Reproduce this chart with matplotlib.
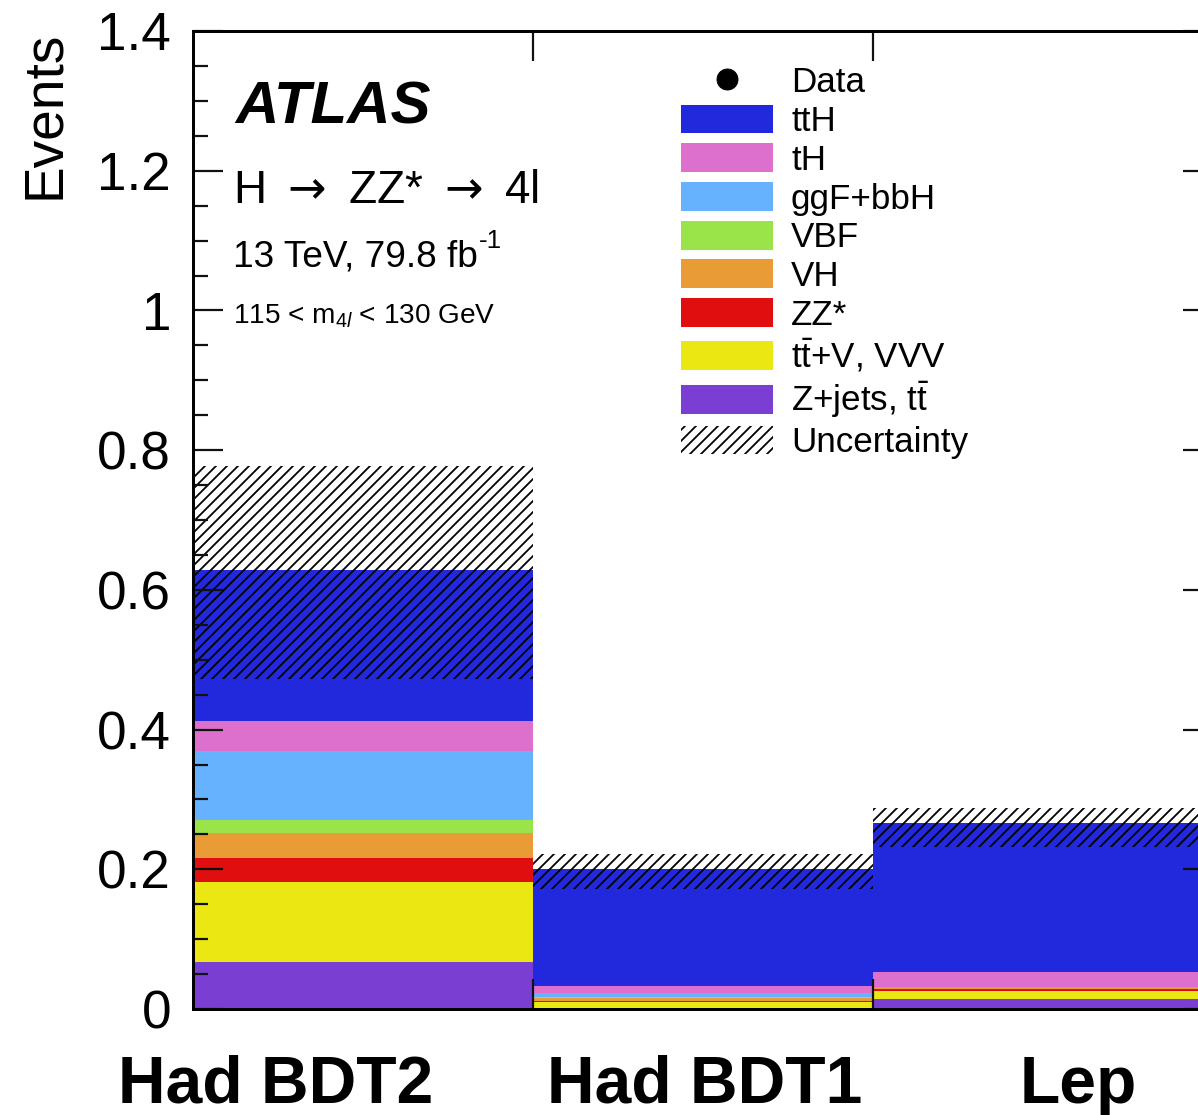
import numpy as np
import matplotlib
matplotlib.use("Agg")
import matplotlib.pyplot as plt
from matplotlib.lines import Line2D
from matplotlib.patches import Patch
from matplotlib.ticker import MultipleLocator

DPI = 66


def px(v):
    """pixel size -> points at the figure dpi"""
    return v * 72.0 / DPI


plt.rcParams["font.family"] = ["Liberation Sans", "DejaVu Sans"]
plt.rcParams["mathtext.fontset"] = "custom"
plt.rcParams["mathtext.rm"] = "Liberation Sans"
plt.rcParams["mathtext.it"] = "Liberation Sans:italic"
plt.rcParams["mathtext.bf"] = "Liberation Sans:bold"
plt.rcParams["hatch.linewidth"] = px(1.8)

# ── data ────────────────────────────────────────────────────────────────────
categories = ["Had BDT2", "Had BDT1", "Lep"]
bin_edges = [0, 1, 2, 3]
label_pos = [0.244, 1.506, 2.603]          # category label centres (bin units)

zjets = [0.067, 0.002, 0.014]
ttv = [0.115, 0.008, 0.012]
zz = [0.034, 0.002, 0.002]
vh = [0.036, 0.004, 0.003]
vbf = [0.019, 0.001, 0.0005]
ggf = [0.098, 0.0065, 0.0005]
th = [0.043, 0.0095, 0.021]
tth = [0.216, 0.168, 0.213]
unc_up = [0.150, 0.0205, 0.0215]
unc_down = [0.156, 0.0286, 0.0339]

yticks = [0, 0.2, 0.4, 0.6, 0.8, 1.0, 1.2, 1.4]
ytick_labels = ["0", "0.2", "0.4", "0.6", "0.8", "1", "1.2", "1.4"]

# stack order bottom -> top
STACK = [
    ("Z+jets, t$\\bar{\\mathrm{t}}$", zjets, "#7a3fd2"),
    ("t$\\bar{\\mathrm{t}}$+V, VVV", ttv, "#ebe712"),
    ("ZZ*", zz, "#e00e0e"),
    ("VH", vh, "#e99c36"),
    ("VBF", vbf, "#9ae44a"),
    ("ggF+bbH", ggf, "#66b2ff"),
    ("tH", th, "#dd70cc"),
    ("ttH", tth, "#2229dd"),
]

fig = plt.figure(figsize=(1198 / DPI, 1115 / DPI), dpi=DPI)
# right spine sits just outside the picture, as in the original crop
ax = fig.add_axes([193 / 1198, (1115 - 1009) / 1115, 1020 / 1198, 978 / 1115])

left = np.array(bin_edges[:-1], dtype=float)
width = np.diff(bin_edges)
bottom = np.zeros(len(categories))
for label, vals, col in STACK:
    ax.bar(left, vals, width=width, bottom=bottom, align="edge",
           color=col, linewidth=0, zorder=1)
    bottom += np.array(vals)

lo = bottom - np.array(unc_down)
hi = bottom + np.array(unc_up)
ax.bar(left, hi - lo, width=width, bottom=lo, align="edge",
       fill=False, hatch="//", edgecolor="k", linewidth=0, zorder=1.5)

ax.set_xlim(bin_edges[0], bin_edges[-1])
ax.set_ylim(0, 1.4)
ax.set_yticks(yticks)
ax.set_yticklabels(ytick_labels)
ax.yaxis.set_minor_locator(MultipleLocator(0.05))
ax.set_xticks(bin_edges[1:-1])
ax.tick_params(axis="x", labelbottom=False)
ax.tick_params(which="both", direction="in", top=True, right=True,
               width=px(2.2), color="#111111")
ax.tick_params(which="major", length=px(30), labelsize=px(53), pad=px(22))
ax.tick_params(which="minor", length=px(15))
for s in ax.spines.values():
    s.set_linewidth(px(3))

ax.set_ylabel("Events", fontsize=px(55), loc="top")
ax.yaxis.set_label_coords(-0.1196, 1.0)

for xpos, name in zip(label_pos, categories):
    ax.text(xpos, -0.096, name, transform=ax.get_xaxis_transform(),
            ha="center", va="baseline", fontsize=px(66), fontweight="bold")

# ATLAS labels
ax.text(0.0412, 0.905, "ATLAS", transform=ax.transAxes, fontsize=px(60),
        fontweight="bold", fontstyle="italic", va="baseline")
ax.text(0.0392, 0.824, "H $\\rightarrow$ ZZ* $\\rightarrow$ 4l", transform=ax.transAxes,
        fontsize=px(46), va="baseline", math_fontfamily="dejavusans")
lumi = ax.text(0.0392, 0.7587, "13 TeV, 79.8 fb", transform=ax.transAxes,
               fontsize=px(37), va="baseline")
ax.annotate("-1", xy=(1.0, 0.62), xycoords=lumi, xytext=(px(1), 0),
            textcoords="offset points", fontsize=px(26), va="bottom", ha="left")
ax.text(0.0392, 0.7014, "115 < m$_{4\\mathit{l}}$ < 130 GeV", transform=ax.transAxes,
        fontsize=px(28), va="baseline")

# legend
handles = [Line2D([], [], marker="o", ls="none", color="k", markersize=px(21))]
labels = ["Data"]
for label, vals, col in STACK[::-1]:
    handles.append(Patch(facecolor=col, edgecolor="none"))
    labels.append(label)
handles.append(Patch(facecolor="none", edgecolor="k", hatch="//", linewidth=0))
labels.append("Uncertainty")

fs = 35
ax.legend(handles, labels, loc="upper left",
          bbox_to_anchor=((681 - 193) / 1020, (1009 - 66) / 978),
          frameon=False, fontsize=px(fs), borderpad=0, borderaxespad=0,
          handlelength=92 / fs, handleheight=31 / fs, handletextpad=18 / fs,
          labelspacing=0.15)

fig.savefig("out.png", dpi=DPI)
